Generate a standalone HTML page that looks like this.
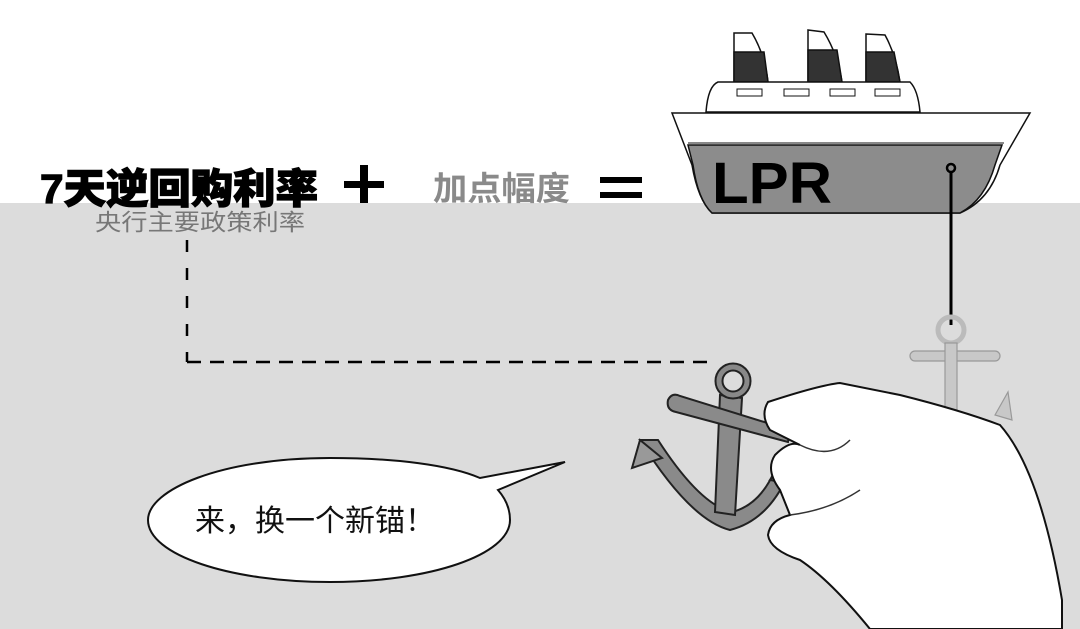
<!DOCTYPE html>
<html><head><meta charset="utf-8"><style>
html,body{margin:0;padding:0;width:1080px;height:629px;overflow:hidden;background:#fff}
svg{display:block}
text{font-family:"Liberation Sans","Noto Sans CJK SC",sans-serif}
</style></head><body>
<svg width="1080" height="629" viewBox="0 0 1080 629" xmlns="http://www.w3.org/2000/svg">
<rect x="0" y="0" width="1080" height="203" fill="#fff"/>
<rect x="0" y="203" width="1080" height="426" fill="#dcdcdc"/>
<g stroke="#111" stroke-width="1.5">
<path d="M734 33 L752 33 Q765 55 768 82 L734 82 Z" fill="#fff"/>
<path d="M734 52 L764 52 L768 82 L734 82 Z" fill="#333"/>
<path d="M808 30 L824 32 Q838 55 842 82 L808 82 Z" fill="#fff"/>
<path d="M808 50 L837 50 L842 82 L808 82 Z" fill="#333"/>
<path d="M866 34 L885 35 Q896 55 900 82 L866 82 Z" fill="#fff"/>
<path d="M866 52 L894 52 L900 82 L866 82 Z" fill="#333"/>
<path d="M706 112 Q708 86 718 82 L910 82 Q918 90 920 112 Z" fill="#fff"/>
<rect x="737" y="89" width="25" height="7" fill="#fff" stroke-width="1"/>
<rect x="784" y="89" width="25" height="7" fill="#fff" stroke-width="1"/>
<rect x="830" y="89" width="25" height="7" fill="#fff" stroke-width="1"/>
<rect x="875" y="89" width="25" height="7" fill="#fff" stroke-width="1"/>
<path d="M672 113 L1030 113 L1000 165 Q990 200 960 213 L712 213 Q698 200 692 165 Z" fill="#fff"/>
<path d="M688 145 L1002 145 L995 165 Q985 200 960 213 L712 213 Q698 200 693 165 Z" fill="#8c8c8c"/>
<line x1="688" y1="143" x2="1004" y2="143" stroke-width="1"/>
</g>
<text x="712" y="203" font-size="58" font-weight="bold" fill="#000" textLength="120" lengthAdjust="spacingAndGlyphs">LPR</text>
<circle cx="951" cy="168" r="4" fill="none" stroke="#000" stroke-width="2.5"/>
<line x1="951" y1="172" x2="951" y2="325" stroke="#000" stroke-width="3"/>
<g fill="#c8c8c8" stroke="#999" stroke-width="1.2">
<circle cx="951" cy="330" r="13" fill="none" stroke-width="5" stroke="#bbb"/>
<rect x="910" y="351" width="90" height="10" rx="5"/>
<rect x="945" y="343" width="12" height="70"/>
<path d="M995 415 L1008 392 L1012 420 Z"/>
</g>
<text x="40" y="203" font-size="41" font-weight="900" fill="#000" stroke="#000" stroke-width="1.2" textLength="278" lengthAdjust="spacingAndGlyphs">7天逆回购利率</text>
<rect x="344" y="181" width="40" height="7" fill="#000"/>
<rect x="360" y="165" width="8" height="38" fill="#000"/>
<text x="433" y="200" font-size="33" font-weight="bold" fill="#8a8a8a" textLength="137" lengthAdjust="spacingAndGlyphs">加点幅度</text>
<rect x="600" y="177" width="42" height="6" fill="#000"/>
<rect x="600" y="192" width="42" height="6" fill="#000"/>
<text x="95" y="230" font-size="23" fill="#777" textLength="210" lengthAdjust="spacingAndGlyphs">央行主要政策利率</text>
<line x1="187" y1="240" x2="187" y2="362" stroke="#000" stroke-width="2.5" stroke-dasharray="12,16"/>
<line x1="187" y1="362" x2="712" y2="362" stroke="#000" stroke-width="2.5" stroke-dasharray="14,9"/>
<g stroke="#222" stroke-width="2" fill="#8a8a8a">
<path d="M640 440 Q690 520 730 530 Q770 520 790 470 L775 470 Q760 505 732 512 Q700 505 658 440 Z"/>
<path d="M632 468 L640 440 L662 458 Z" fill="#999"/>
<path d="M770 480 L790 455 L796 485 Z" fill="#999"/>
<path d="M720 395 L742 398 L735 515 L715 512 Z"/>
<path d="M668 400 Q672 392 680 396 L790 430 L788 442 L676 412 Q666 410 668 400 Z"/>
<circle cx="733" cy="381" r="14" fill="none" stroke="#222" stroke-width="9"/>
<circle cx="733" cy="381" r="14" fill="none" stroke="#888" stroke-width="5"/>
</g>
<path d="M768 402 Q820 385 840 383 L900 395 Q960 410 1000 425 Q1040 470 1062 600 L1062 629 L870 629 Q830 580 800 560 Q770 550 768 535 Q770 520 790 515 L780 490 Q765 470 775 455 Q790 440 800 445 L770 430 Q760 415 768 402 Z" fill="#fff" stroke="#111" stroke-width="2"/>
<path d="M800 445 Q830 460 850 440 M790 515 Q830 510 860 490" fill="none" stroke="#333" stroke-width="1.5"/>
<path d="M330 458 C220 458 148 490 148 520 C148 555 230 582 330 582 C430 582 510 555 510 520 C510 508 505 498 498 490 L565 462 L480 478 C450 465 395 458 330 458 Z" fill="#fff" stroke="#111" stroke-width="2"/>
<text x="195" y="531" font-size="30" fill="#111">来，换一个新锚！</text>
</svg>
</body></html>
